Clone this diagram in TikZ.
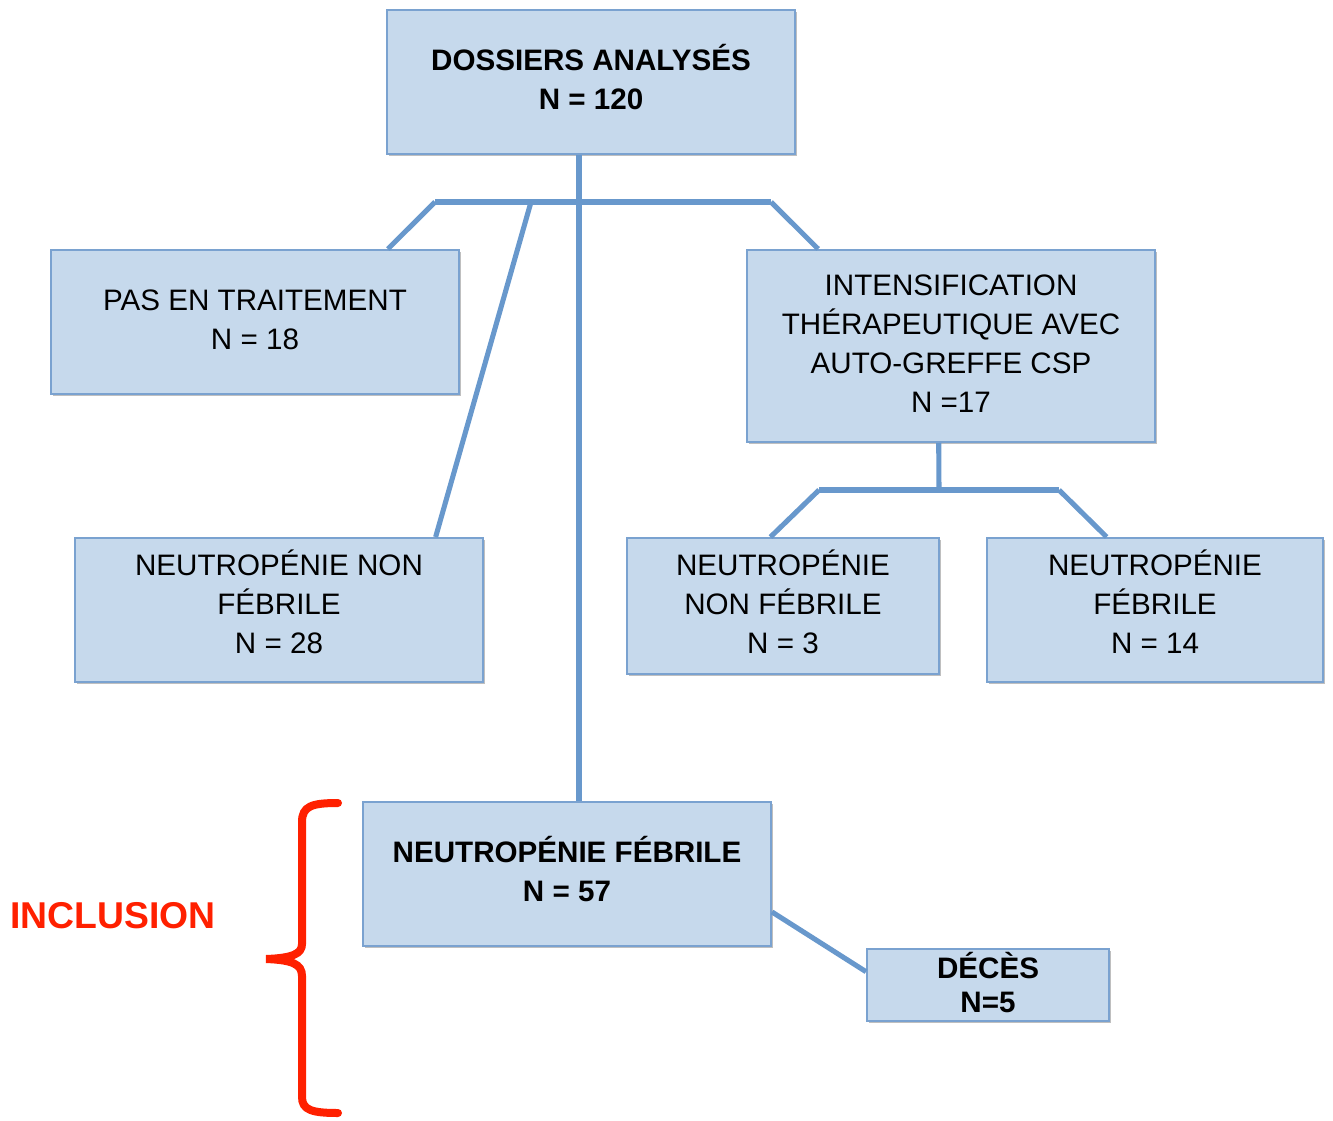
\documentclass[tikz,border=0pt]{standalone}
\usepackage{fontspec}
\setmainfont{Liberation Sans}
\usetikzlibrary{calc,shadows}
\definecolor{boxfill}{RGB}{198,217,236}
\definecolor{boxline}{RGB}{122,162,208}
\definecolor{linkblue}{RGB}{104,152,204}
\definecolor{inclred}{RGB}{255,32,0}
\tikzset{
  flowbox/.style={draw=boxline, line width=1.5pt, fill=boxfill, inner sep=0pt,
    drop shadow={shadow xshift=1.5pt, shadow yshift=-1.5pt, opacity=0.25, fill=black}},
  boxtext/.style={align=center, inner sep=0pt, font=\fontsize{22.2pt}{29.3pt}\selectfont},
  boldtext/.style={boxtext, font=\fontsize{22.2pt}{29.3pt}\selectfont\bfseries},
  link/.style={draw=linkblue, line width=3.8pt},
  bracestroke/.style={draw=inclred, line width=6pt, line cap=round}
}
\begin{document}
\begin{tikzpicture}[x=0.75pt, y=-0.75pt]
\useasboundingbox (0,0) rectangle (1333,1120);

% boxes
\node[flowbox, minimum width=306pt, minimum height=108pt] (dossiers) at (591,82) {};
\node[flowbox, minimum width=306pt, minimum height=108pt] (pas) at (255,322) {};
\node[flowbox, minimum width=306pt, minimum height=144pt] (intens) at (951,346) {};
\node[flowbox, minimum width=306pt, minimum height=108pt] (nnfa) at (279,610) {};
\node[flowbox, minimum width=234pt, minimum height=102pt] (nnfb) at (783,606) {};
\node[flowbox, minimum width=252pt, minimum height=108pt] (nfb) at (1155,610) {};
\node[flowbox, minimum width=306pt, minimum height=108pt] (nfa) at (567,874) {};
\node[flowbox, minimum width=181.5pt, minimum height=54pt] (deces) at (988,985) {};

% box texts
\node[boldtext] (dossiersT) at ($(dossiers.center)+(0,-5)$) {DOSSIERS ANALYSÉS\\N = 120};
\node[boxtext] (pasT) at ($(pas.center)+(0,-2)$) {PAS EN TRAITEMENT\\N = 18};
\node[boxtext] (intensT) at ($(intens.center)+(0,-2)$)
  {INTENSIFICATION\\THÉRAPEUTIQUE AVEC\\AUTO-GREFFE CSP\\N =17};
\node[boxtext] (nnfaT) at ($(nnfa.center)+(0,-8)$) {NEUTROPÉNIE NON\\FÉBRILE\\N = 28};
\node[boxtext] (nnfbT) at ($(nnfb.center)+(0,-4)$) {NEUTROPÉNIE\\NON FÉBRILE\\N = 3};
\node[boxtext] (nfbT) at ($(nfb.center)+(0,-8)$) {NEUTROPÉNIE\\FÉBRILE\\N = 14};
\node[boldtext] (nfaT) at ($(nfa.center)+(0,-5)$) {NEUTROPÉNIE FÉBRILE\\N = 57};
\node[boldtext, font=\fontsize{22.2pt}{25.5pt}\selectfont\bfseries] (decesT)
  at ($(deces.center)+(0,-2)$) {DÉCÈS\\N=5};

% branching points
\coordinate (trunk) at (579,202);
\coordinate (barL) at (435,202);
\coordinate (barM) at (531,202);
\coordinate (barR) at (771,202);
\coordinate (subL) at (819,490);
\coordinate (subR) at (1059,490);

% connectors from the first box
\draw[link] (dossiers.south -| trunk) -- (nfa.north -| trunk);
\draw[link] (barL) -- (barR);
\draw[link] (barL) -- ($(pas.north west)!0.824!(pas.north east)$);
\draw[link] (barR) -- ($(intens.north west)!0.176!(intens.north east)$);
\draw[link] (barM) -- ($(nnfa.north west)!0.882!(nnfa.north east)$);

% connectors below the intensification box
\draw[link] ($(intens.south west)!0.47!(intens.south east)$) -- ($(subL)!0.5!(subR)$);
\draw[link] (subL) -- (subR);
\draw[link] (subL) -- ($(nnfb.north west)!0.46!(nnfb.north east)$);
\draw[link] (subR) -- ($(nfb.north west)!0.357!(nfb.north east)$);

% death branch
\draw[link] ($(nfa.north east)!0.76!(nfa.south east)$) -- ($(deces.north west)!0.32!(deces.south west)$);

% inclusion brace and label
\draw[bracestroke] (338,803) .. controls (312,803) and (302,806) .. (302,822)
  -- (302,944) .. controls (302,954) and (292,958) .. (266,959)
  .. controls (292,960) and (302,964) .. (302,976)
  -- (302,1097) .. controls (302,1110) and (312,1113) .. (338,1113);
\node[text=inclred, font=\fontsize{28pt}{33pt}\selectfont\bfseries, inner sep=0pt]
  (inclusion) at (113,916) {INCLUSION};
\end{tikzpicture}
\end{document}
